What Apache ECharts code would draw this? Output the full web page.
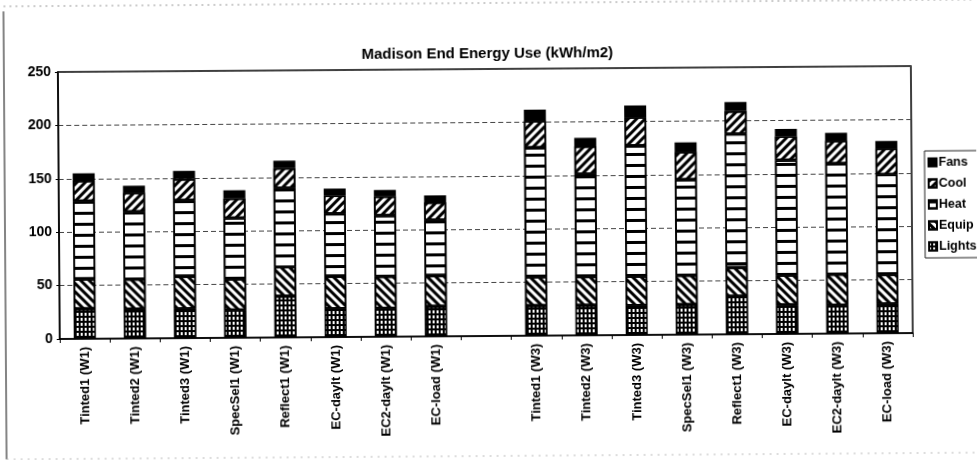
<!DOCTYPE html>
<html>
<head>
<meta charset="utf-8">
<script src="https://cdn.jsdelivr.net/npm/echarts@6/dist/echarts.min.js"></script>
<style>
html,body{margin:0;padding:0;background:#fff;overflow:hidden;}
#chart{width:977px;height:460px;transform:rotate(-0.4deg);transform-origin:50% 50%;}
</style>
</head>
<body>
<div id="chart"></div>
<script>
const categories = ['Tinted1 (W1)', 'Tinted2 (W1)', 'Tinted3 (W1)', 'SpecSel1 (W1)', 'Reflect1 (W1)', 'EC-daylt (W1)', 'EC2-daylt (W1)', 'EC-load (W1)', '',
  'Tinted1 (W3)', 'Tinted2 (W3)', 'Tinted3 (W3)', 'SpecSel1 (W3)', 'Reflect1 (W3)', 'EC-daylt (W3)', 'EC2-daylt (W3)', 'EC-load (W3)'];
const lights = [28, 27.5, 27.5, 26, 38.5, 26.5, 26.5, 28, null, 28, 28, 27.5, 28, 35.5, 27, 26.5, 27.5];
const equip  = [28, 28, 30.5, 29, 27.5, 30.5, 30, 29, null, 27, 27, 27.5, 27.5, 27, 28, 29, 27.5];
const heat   = [73, 63, 71, 57, 74, 58.5, 57, 52, null, 121, 96, 122, 89.5, 125, 107.5, 103.5, 93.5];
const cool   = [19, 18, 20, 18.5, 18.5, 17, 18, 16.5, null, 25, 26, 27, 26, 21.5, 22.5, 21.5, 24.5];
const fans   = [7, 6.5, 7.5, 7.5, 7, 6.5, 6, 6.5, null, 10.5, 8, 11, 9, 8.5, 7, 7.5, 7];
const yTicks = [0, 50, 100, 150, 200, 250];
const legendOrder = ['Fans', 'Cool', 'Heat', 'Equip', 'Lights'];
const titleText = 'Madison End Energy Use (kWh/m2)';

const FONT = '"Liberation Sans", Arial, sans-serif';
const chart = echarts.init(document.getElementById('chart'), null, {renderer: 'canvas'});

function bar(name, data, color, decal) {
  const s = {
    name: name, type: 'bar', stack: 'total', data: data, barWidth: 22,
    itemStyle: {color: color, borderColor: '#000', borderWidth: 1.6},
    emphasis: {disabled: true}
  };
  if (decal) s.itemStyle.decal = decal;
  return s;
}

const option = {
  animation: false,
  backgroundColor: '#fff',
  title: {
    text: titleText, left: 'center', top: 41,
    textStyle: {fontFamily: FONT, fontSize: 15, fontWeight: 'bold', color: '#000'}
  },
  legend: {
    data: legendOrder, orient: 'vertical', left: 925, top: 154,
    icon: 'rect',
    itemWidth: 8, itemHeight: 8, itemGap: 8,
    padding: [5, 40, 5, 3],
    borderColor: '#222', borderWidth: 1,
    textStyle: {fontFamily: FONT, fontSize: 12.5, fontWeight: 'bold', color: '#000', padding: [0, 0, 0, -3]}
  },
  grid: {left: 59, right: 65, top: 69, bottom: 124, show: true, borderColor: '#000', borderWidth: 1.5, backgroundColor: 'transparent'},
  xAxis: {
    type: 'category', data: categories,
    axisLine: {lineStyle: {color: '#000', width: 1.5}},
    axisTick: {show: true, length: 4, interval: 0, lineStyle: {color: '#000'}},
    axisLabel: {rotate: 90, interval: 0, margin: 8, fontFamily: FONT, fontSize: 13, fontWeight: 'bold', color: '#000'}
  },
  yAxis: {
    type: 'value', min: yTicks[0], max: yTicks[yTicks.length - 1], interval: 50,
    axisLine: {show: true, lineStyle: {color: '#000', width: 1.5}},
    axisTick: {show: true, length: 3, lineStyle: {color: '#000'}},
    axisLabel: {margin: 7, fontFamily: FONT, fontSize: 14, fontWeight: 'bold', color: '#000'},
    splitLine: {show: true, lineStyle: {color: '#444', type: [5, 3], width: 1}}
  },
  graphic: [
    {type: 'line', shape: {x1: 5, y1: 3, x2: 977, y2: 3}, style: {stroke: '#999', lineWidth: 1, lineDash: [2, 4]}, silent: true},
    {type: 'line', shape: {x1: 5, y1: 8, x2: 5, y2: 456}, style: {stroke: '#333', lineWidth: 1.2}, silent: true},
    {type: 'line', shape: {x1: 5, y1: 456, x2: 977, y2: 456}, style: {stroke: '#bbb', lineWidth: 1, lineDash: [2, 5]}, silent: true}
  ],
  series: [
    bar('Lights', lights, '#000', {symbol: 'rect', symbolSize: 1, color: '#fff', dashArrayX: [2, 1.6], dashArrayY: [2.6, 1.6], rotation: 0}),
    bar('Equip', equip, '#fff', {symbol: 'rect', symbolSize: 1, color: '#000', dashArrayX: [1, 0], dashArrayY: [3, 3], rotation: Math.PI / 4}),
    bar('Heat', heat, '#fff', {symbol: 'rect', symbolSize: 1, color: '#000', dashArrayX: [1, 0], dashArrayY: [3, 7.5], rotation: 0}),
    bar('Cool', cool, '#fff', {symbol: 'rect', symbolSize: 1, color: '#000', dashArrayX: [1, 0], dashArrayY: [3, 3], rotation: -Math.PI / 4}),
    bar('Fans', fans, '#000', null)
  ]
};
chart.setOption(option);
</script>
</body>
</html>
